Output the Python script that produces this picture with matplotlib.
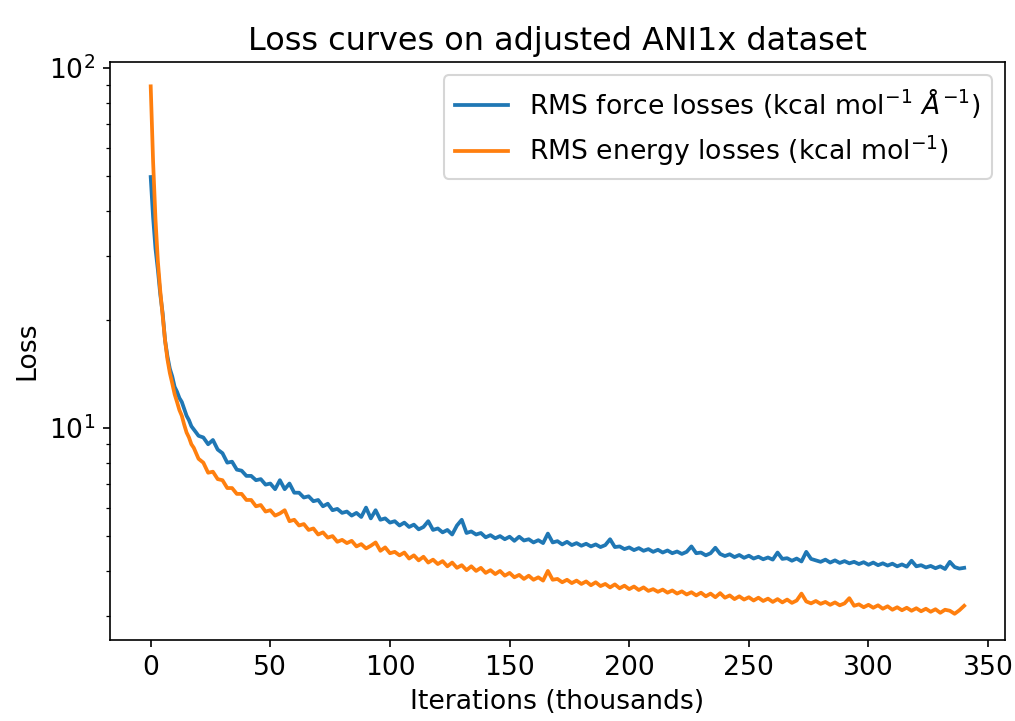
import matplotlib
matplotlib.use("Agg")
import matplotlib.pyplot as plt

plt.rcParams["font.size"] = 12.8

# iterations in thousands
iterations = list(range(0, 21)) + list(range(22, 341, 2))

# RMS force loss
force_loss = [
    49.8, 38.5, 31.5, 27.5, 23.5, 20.8, 17.5, 15.8, 14.6, 13.9, 13.0,
    12.6, 12.1, 11.8, 11.3, 10.8, 10.5, 10.1, 9.9, 9.7, 9.5,
    9.4, 9.0, 9.25, 8.7, 8.5, 8.0, 8.05, 7.65, 7.6, 7.35,
    7.35, 7.15, 7.2, 6.95, 7.0, 6.75, 7.15, 6.75, 7.0, 6.6,
    6.6, 6.4, 6.45, 6.25, 6.3, 6.05, 6.15, 5.9, 5.95, 5.8,
    5.85, 5.7, 5.8, 5.65, 6.0, 5.6, 5.9, 5.55, 5.6, 5.45,
    5.5, 5.35, 5.45, 5.3, 5.38, 5.22, 5.3, 5.5, 5.2, 5.25,
    5.12, 5.2, 5.05, 5.35, 5.55, 5.1, 5.15, 5.05, 5.1, 4.96,
    5.03, 4.93, 5.0, 4.9, 4.98, 4.85, 4.98, 4.86, 4.9, 4.8,
    4.87, 4.78, 5.08, 4.8, 4.84, 4.74, 4.82, 4.72, 4.78, 4.7,
    4.76, 4.68, 4.74, 4.66, 4.72, 4.9, 4.66, 4.68, 4.6, 4.65,
    4.57, 4.63, 4.55, 4.6, 4.52, 4.58, 4.5, 4.56, 4.48, 4.53,
    4.46, 4.52, 4.68, 4.48, 4.5, 4.42, 4.48, 4.64, 4.46, 4.4,
    4.45, 4.37, 4.43, 4.35, 4.41, 4.33, 4.38, 4.31, 4.36, 4.3,
    4.5, 4.32, 4.34, 4.27, 4.33, 4.25, 4.52, 4.32, 4.28, 4.24,
    4.3, 4.22, 4.28, 4.21, 4.26, 4.2, 4.24, 4.18, 4.23, 4.16,
    4.22, 4.15, 4.2, 4.14, 4.19, 4.12, 4.17, 4.11, 4.27, 4.12,
    4.15, 4.09, 4.13, 4.07, 4.12, 4.05, 4.24, 4.1, 4.06, 4.08,
]

# RMS energy loss
energy_loss = [
    89.0, 55.0, 38.0, 29.0, 24.0, 20.5, 17.5, 15.5, 14.2, 13.3, 12.4,
    11.8, 11.2, 10.8, 10.2, 9.7, 9.4, 9.0, 8.8, 8.5, 8.2,
    8.0, 7.5, 7.55, 7.2, 7.15, 6.8, 6.8, 6.55, 6.55, 6.3,
    6.3, 6.05, 6.1, 5.85, 5.9, 5.7, 5.78, 5.9, 5.5, 5.55,
    5.35, 5.4, 5.2, 5.25, 5.05, 5.12, 4.95, 5.0, 4.82, 4.88,
    4.78, 4.85, 4.68, 4.75, 4.62, 4.7, 4.8, 4.55, 4.65, 4.48,
    4.52, 4.42, 4.5, 4.33, 4.42, 4.28, 4.38, 4.22, 4.3, 4.18,
    4.26, 4.12, 4.22, 4.08, 4.15, 4.02, 4.12, 4.0, 4.08, 3.95,
    4.02, 3.92, 4.0, 3.88, 3.95, 3.84, 3.9, 3.8, 3.88, 3.78,
    3.84, 3.76, 4.0, 3.78, 3.8, 3.72, 3.78, 3.7, 3.76, 3.68,
    3.74, 3.65, 3.72, 3.63, 3.68, 3.6, 3.67, 3.58, 3.64, 3.56,
    3.62, 3.54, 3.6, 3.52, 3.56, 3.5, 3.55, 3.48, 3.53, 3.46,
    3.51, 3.44, 3.49, 3.42, 3.48, 3.4, 3.46, 3.38, 3.47, 3.37,
    3.42, 3.34, 3.4, 3.33, 3.38, 3.31, 3.37, 3.3, 3.35, 3.28,
    3.34, 3.27, 3.33, 3.26, 3.31, 3.46, 3.29, 3.25, 3.3, 3.24,
    3.28, 3.22, 3.27, 3.21, 3.25, 3.36, 3.2, 3.23, 3.17, 3.22,
    3.16, 3.21, 3.14, 3.19, 3.12, 3.17, 3.11, 3.16, 3.1, 3.15,
    3.09, 3.14, 3.08, 3.13, 3.06, 3.12, 3.1, 3.04, 3.11, 3.2,
]

fig = plt.figure(figsize=(1015 / 150, 721 / 150), dpi=150)
ax = fig.add_axes([0.1084, 0.1123, 0.8816, 0.8017])

ax.plot(iterations, force_loss, lw=1.8, label=r"RMS force losses (kcal mol$^{-1}$ $\AA^{-1}$)")
ax.plot(iterations, energy_loss, lw=1.8, label=r"RMS energy losses (kcal mol$^{-1}$)")
ax.set_yscale("log")
ax.set_ylim(2.57, 104)

ax.set_title("Loss curves on adjusted ANI1x dataset", fontsize=15.3)
ax.set_xlabel("Iterations (thousands)")
ax.set_ylabel("Loss")
ax.legend(loc="upper right", fontsize=12.8)

fig.savefig("out.png", dpi=150)
